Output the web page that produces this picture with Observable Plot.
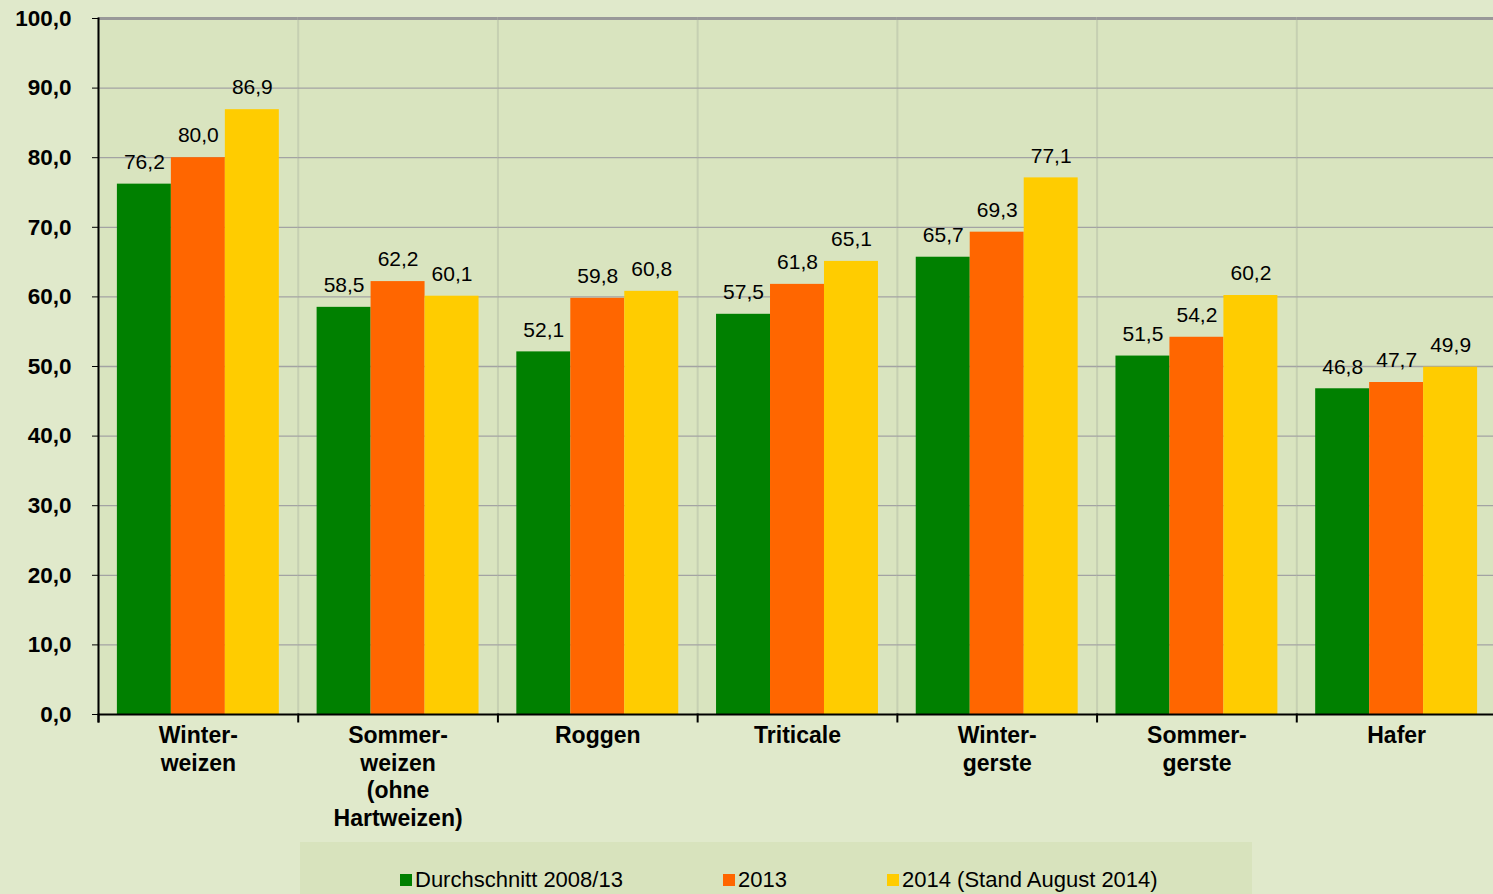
<!DOCTYPE html>
<html>
<head>
<meta charset="utf-8">
<script src="https://cdn.jsdelivr.net/npm/d3@7"></script>
<script src="https://cdn.jsdelivr.net/npm/@observablehq/plot@0.6"></script>
<style>
  html, body { margin: 0; padding: 0; background: #e0e9cb; }
  body { width: 1493px; height: 894px; overflow: hidden; position: relative; font-family: "Liberation Sans", Arial, sans-serif; }
  #chart svg { display: block; background: transparent; }
  #legend { position: absolute; left: 300px; top: 842px; width: 952px; height: 52px; background: #d8e3bd; }
  .item { position: absolute; top: 26px; font-size: 22px; color: #000; white-space: nowrap; line-height: 24px; }
  .sw { display: inline-block; width: 12px; height: 12px; margin-right: 3px; vertical-align: 1px; }
</style>
</head>
<body>
<div id="chart"></div>
<div id="legend"></div>
<script>
const categories = ["Winter-\nweizen", "Sommer-\nweizen\n(ohne\nHartweizen)", "Roggen", "Triticale", "Winter-\ngerste", "Sommer-\ngerste", "Hafer"];
const series = ["Durchschnitt 2008/13", "2013", "2014 (Stand August 2014)"];
const avg2008_13 = [76.2, 58.5, 52.1, 57.5, 65.7, 51.5, 46.8];
const y2013 = [80.0, 62.2, 59.8, 61.8, 69.3, 54.2, 47.7];
const y2014 = [86.9, 60.1, 60.8, 65.1, 77.1, 60.2, 49.9];
const colors = ["#008000", "#ff6600", "#ffcc00"];
const yTicks = [0, 10, 20, 30, 40, 50, 60, 70, 80, 90, 100];
const gridTicks = [10, 20, 30, 40, 50, 60, 70, 80, 90];
const legendX = [100, 423, 587];

const valuesBySeries = [avg2008_13, y2013, y2014];
const data = categories.flatMap((c, i) => series.map((s, j) => ({cat: c, series: s, value: valuesBySeries[j][i]})));
const fmt = d => d.toFixed(1).replace(".", ",");

const W = 1493, H = 842, MT = 18, MB = 128, ML = 98, MR = -3;
const innerH = H - MT - MB;

const chart = Plot.plot({
  width: W, height: H,
  marginTop: MT, marginBottom: MB, marginLeft: ML, marginRight: MR,
  style: {fontFamily: "Liberation Sans, Arial, sans-serif", background: "transparent", color: "#000"},
  fx: {domain: categories, padding: 0, round: false},
  x: {domain: series, paddingInner: 0, paddingOuter: 0.35, axis: null, round: false},
  y: {domain: [0, 100]},
  color: {domain: series, range: colors},
  marks: [
    Plot.frame({fill: "#d9e4bf", stroke: null}),
    Plot.frame({anchor: "left", stroke: "#c6d0b2", strokeWidth: 2}),
    Plot.ruleY(gridTicks, {stroke: "#a3a3a3", strokeWidth: 1.3}),
    Plot.ruleY([100], {stroke: "#999999", strokeWidth: 3}),
    Plot.barY(data, {fx: "cat", x: "series", y: "value", fill: "series"}),
    Plot.text(data, {fx: "cat", x: "series", y: "value", text: d => fmt(d.value), dy: -22, fontSize: 21, fill: "#000"}),
    Plot.ruleY([0], {stroke: "#000", strokeWidth: 2}),
    Plot.frame({anchor: "left", stroke: "#000", strokeWidth: 2, insetTop: innerH, insetBottom: -7}),
    Plot.frame({anchor: "left", stroke: "#000", strokeWidth: 2, insetBottom: -7, fx: () => categories[0]}),
    Plot.axisY({ticks: yTicks, tickFormat: fmt, tickSize: 6, tickPadding: 21, fontSize: 22.5, fontWeight: "bold", label: null, stroke: "#000"}),
    Plot.axisFx({anchor: "bottom", tickSize: 0, tickPadding: 9, fontSize: 23, fontWeight: "bold", lineHeight: 1.2, label: null})
  ]
});
document.getElementById("chart").appendChild(chart);

const legend = document.getElementById("legend");
series.forEach((s, j) => {
  const it = document.createElement("div");
  it.className = "item";
  it.style.left = legendX[j] + "px";
  const sw = document.createElement("span");
  sw.className = "sw";
  sw.style.background = colors[j];
  it.appendChild(sw);
  it.appendChild(document.createTextNode(s));
  legend.appendChild(it);
});
</script>
</body>
</html>
